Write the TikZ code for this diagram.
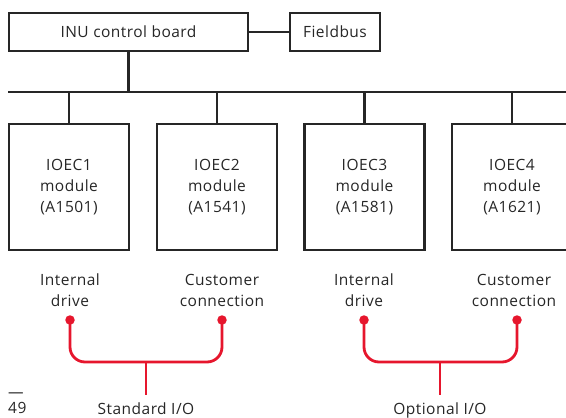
\documentclass[tikz,border=0pt]{standalone}
\usepackage{fontspec}
\setmainfont{Open Sans}[LetterSpace=3]
\usetikzlibrary{positioning,calc}
\definecolor{abbred}{RGB}{230,22,45}

\begin{document}
\begin{tikzpicture}[
  x=1pt, y=-1pt, font=\fontsize{15.5}{21}\selectfont, text=black!85,
  board/.style={rectangle, draw=black!85, line width=2.2pt,
                minimum height=38pt, inner sep=0pt},
  module/.style={rectangle, draw=black!85, line width=2.2pt,
                 minimum width=120pt, minimum height=126pt, align=center},
  wire/.style={draw=black!85, line width=2.2pt},
  lbl/.style={align=center, inner sep=0pt},
  io/.style={draw=abbred, line width=2.8pt, rounded corners=15pt},
  pin/.style={circle, fill=abbred, inner sep=0pt, minimum size=9.5pt},
]
  \useasboundingbox (0,0) rectangle (566,418);
  \clip (0,0) rectangle (566,418);

  %% Top row: control board and fieldbus
  \node[board, minimum width=239pt] (inu) at (128.5,32) {INU control board};
  \node[board, minimum width=90pt] (fbus) at (335,32) {Fieldbus};
  \draw[wire] (inu.east) -- (fbus.west);

  %% Bus line
  \coordinate (busL) at (8,92);
  \coordinate (busR) at (570,92);
  \draw[wire] (busL) -- (busR);
  \draw[wire] (inu.south) -- (inu.south |- busL);

  %% I/O extension modules
  \node[module] (ioec1) at (69,187)    {IOEC1\\module\\(A1501)};
  \node[module] (ioec2) at (217,187)   {IOEC2\\module\\(A1541)};
  \node[module] (ioec3) at (364.5,187) {IOEC3\\module\\(A1581)};
  \node[module] (ioec4) at (512,187)   {IOEC4\\module\\(A1621)};
  \foreach \m in {ioec1,ioec2,ioec3,ioec4}
    \draw[wire] (\m.north) -- (\m.north |- busL);

  %% Connection labels
  \node[lbl] (int1)  at (70,290)  {Internal\\drive};
  \node[lbl] (cust1) at (222,290) {Customer\\connection};
  \node[lbl] (int2)  at (364,290) {Internal\\drive};
  \node[lbl] (cust2) at (514,290) {Customer\\connection};

  %% Red pins
  \node[pin] (p1) at (70,320)  {};
  \node[pin] (p2) at (222,320) {};
  \node[pin] (p3) at (364,320) {};
  \node[pin] (p4) at (517,320) {};

  %% Brackets and group labels
  \coordinate (j1) at (146,362);
  \coordinate (j2) at (440,362);
  \node[lbl, inner ysep=7pt, anchor=base] (std) at (146,414) {Standard I/O};
  \node[lbl, inner ysep=7pt, anchor=base] (opt) at (440,414) {Optional I/O};
  \draw[io] (p1.center) |- (j1) -| (p2.center);
  \draw[io] (p3.center) |- (j2) -| (p4.center);
  \draw[io] (j1) -- (std.north);
  \draw[io] (j2) -- (opt.north);

  %% Page number
  \node[lbl, anchor=base west] (dash) at (8,397) {—};
  \node[lbl, anchor=base west] (page) at (8,413) {49};
\end{tikzpicture}
\end{document}
